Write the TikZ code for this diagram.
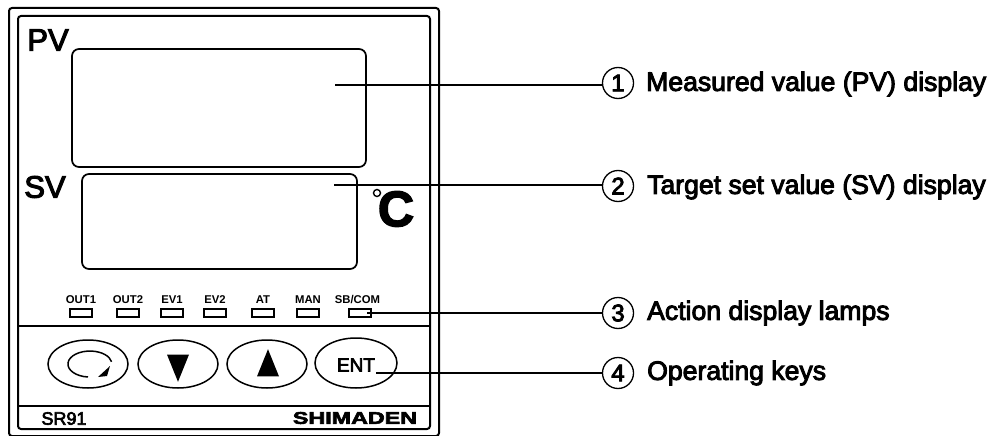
\documentclass[tikz,border=0pt]{standalone}
\usepackage{fontspec}
\setmainfont{Liberation Sans}
\newfontfamily\scanfont[FakeBold=3.5]{Liberation Sans}
\newfontfamily\heavyfont[FakeBold=3]{Liberation Sans}
\usetikzlibrary{positioning,shapes.geometric,arrows.meta}
\tikzset{
  frameline/.style={draw=black, line width=2pt, rounded corners=3pt},
  dispbox/.style={draw=black, line width=1.7pt, rounded corners=7pt, inner sep=0pt},
  sepline/.style={draw=black, line width=1.5pt},
  lamp/.style={draw=black, line width=1.7pt, minimum width=22pt, minimum height=8pt, inner sep=0pt},
  lamplabel/.style={font=\fontsize{11.3}{12}\selectfont\bfseries, inner sep=0pt},
  keyshape/.style={ellipse, draw=black, line width=1.5pt, minimum width=80pt, minimum height=48pt, inner sep=0pt},
  arrowtri/.style={isosceles triangle, isosceles triangle apex angle=44, fill=black, inner sep=0pt, minimum height=27pt, minimum width=22pt},
  markcircle/.style={circle, draw=black, line width=1.3pt, minimum size=31pt, inner sep=0pt, font=\scanfont\fontsize{24}{24}\selectfont},
  calltext/.style={anchor=west, inner sep=0pt, font=\scanfont\fontsize{26.6}{28}\selectfont},
  panellabel/.style={inner sep=0pt, font=\scanfont\fontsize{31}{32}\selectfont},
  leader/.style={draw=black, line width=1.2pt}
}
\begin{document}
\begin{tikzpicture}[x=1pt, y=-1pt]
  \useasboundingbox (0,0) rectangle (994,436);
  % frame
  \node[frameline, minimum width=430pt, minimum height=428pt, anchor=north west] (outer) at (8,7) {};
  \node[frameline, minimum width=412pt, minimum height=413pt, anchor=north west] (inner) at (17,15) {};
  \coordinate (sepA) at (17,326);
  \coordinate (sepB) at (17,406);
  \draw[sepline] (sepA) -- (sepA -| inner.east);
  \draw[sepline] (sepB) -- (sepB -| inner.east);

  % displays
  \node[dispbox, minimum width=294pt, minimum height=118pt] (pvdisp) at (219,108) {};
  \node[dispbox, minimum width=275pt, minimum height=95pt] (svdisp) at (219.5,221.5) {};
  \node[panellabel] (pvlabel) at (48,40) {PV};
  \node[panellabel] (svlabel) at (45,187) {SV};
  \node[inner sep=0pt, font=\heavyfont\bfseries\fontsize{50}{50}\selectfont] (unitC) at (396,209) {C};
  \node[circle, draw=black, line width=1.4pt, minimum size=7pt, inner sep=0pt] (unitdeg) at (377,193) {};

  % lamps
  \foreach \lname/\lx/\ltext in {a/81/OUT1, b/128/OUT2, c/172/EV1, d/215/EV2, e/263/AT, f/308/MAN}{
    \node[lamp] (lamp\lname) at (\lx,313) {};
    \node[lamplabel] (lab\lname) at (\lx,300) {\ltext};
  }
  \node[lamp] (lampg) at (360,313) {};
  \node[lamplabel] (labg) at (357.5,300) {SB/COM};

  % keys
  \node[keyshape] (keyrot) at (88,364) {};
  \node[keyshape] (keydown) at (178,364) {};
  \node[keyshape] (keyup) at (267,364) {};
  \node[keyshape, minimum width=82pt, minimum height=50pt] (keyent) at (356,363) {};
  \node[inner sep=0pt, font=\scanfont\fontsize{19}{19}\selectfont] (entlabel) at (356,365) {ENT};
  \draw[line width=1.5pt] (88,377) arc[start angle=265, end angle=10, x radius=22pt, y radius=13pt];
  \fill (98,377) -- (110,366) -- (107,376) -- cycle;
  \node[arrowtri, shape border rotate=-90] (tridown) at (178,362) {};
  \node[arrowtri, shape border rotate=90] (triup) at (268,369) {};
  \node[inner sep=0pt, font=\scanfont\fontsize{18}{18}\selectfont] (modelname) at (64,418.5) {SR91};
  \node[inner sep=0pt, xscale=1.37, font=\heavyfont\bfseries\fontsize{17}{17}\selectfont] (brand) at (355,418) {SHIMADEN};

  % callouts
  \node[markcircle] (mark1) at (618,83) {1};
  \node[markcircle] (mark2) at (618,186) {2};
  \node[markcircle] (mark3) at (618,313) {3};
  \node[markcircle] (mark4) at (618,373) {4};
  \node[calltext] (text1) at (646,84) {Measured value (PV) display};
  \node[calltext] (text2) at (647,187) {Target set value (SV) display};
  \node[calltext] (text3) at (647,313) {Action display lamps};
  \node[calltext] (text4) at (647,373) {Operating keys};
  \coordinate (end1) at (335,85);
  \coordinate (end2) at (334,185);
  \coordinate (end3) at (367,313);
  \coordinate (end4) at (376,373);
  \draw[leader] (end1) -- (end1 -| mark1.west);
  \draw[leader] (end2) -- (end2 -| mark2.west);
  \draw[leader] (end3) -- (end3 -| mark3.west);
  \draw[leader] (end4) -- (end4 -| mark4.west);
\end{tikzpicture}
\end{document}
